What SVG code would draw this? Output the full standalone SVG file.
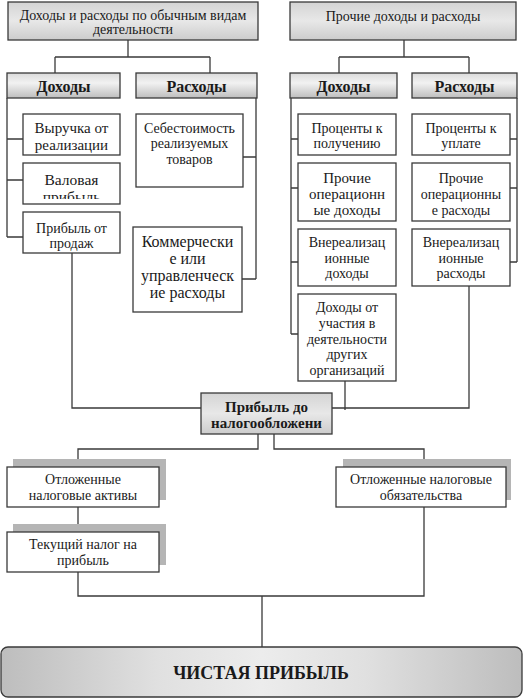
<svg xmlns="http://www.w3.org/2000/svg" width="528" height="698" viewBox="0 0 528 698">
<style>
text{font-family:"Liberation Serif","Times New Roman",serif;fill:#1a1a1a;text-anchor:middle;font-size:14px}
.b{font-weight:bold}
.box{fill:#fff;stroke:#3a3a3a;stroke-width:1.3}
.top{fill:url(#gTop);stroke:#3a3a3a;stroke-width:1.3}
.hdr{fill:url(#gHdr);stroke:#3a3a3a;stroke-width:1.3}
.sh{fill:#b5b5b5}
.c{fill:none;stroke:#3a3a3a;stroke-width:1.3}
</style>
<defs>
<linearGradient id="gTop" x1="0" y1="0" x2="0" y2="1">
<stop offset="0" stop-color="#d4d4d4"/><stop offset="0.5" stop-color="#e8e8e8"/><stop offset="1" stop-color="#cccccc"/>
</linearGradient>
<linearGradient id="gHdr" x1="0" y1="0" x2="0" y2="1">
<stop offset="0" stop-color="#dadada"/><stop offset="0.4" stop-color="#f2f2f2"/><stop offset="1" stop-color="#bdbdbd"/>
</linearGradient>
<linearGradient id="gNet" x1="0" y1="0" x2="1" y2="0">
<stop offset="0" stop-color="#bdbdbd"/><stop offset="0.3" stop-color="#e0e0e0"/><stop offset="0.5" stop-color="#ececec"/><stop offset="0.7" stop-color="#e0e0e0"/><stop offset="1" stop-color="#bdbdbd"/>
</linearGradient>
<clipPath id="clipVal"><rect x="23" y="163" width="97" height="36"/></clipPath>
</defs>

<g id="connectors">
<path class="c" d="M128 40V57M55 57H210M55 57V73M210 57V73"/>
<path class="c" d="M404 40V57M339 57H469M339 57V73M469 57V73"/>
<path class="c" d="M7 98V237M7 139H23M7 180H23M7 237H23"/>
<path class="c" d="M256 98V279M243 157H256M242 279H256"/>
<path class="c" d="M291 98V334M291 139H298M291 188H298M291 262H298M291 334H298"/>
<path class="c" d="M517 98V262M510 139H517M510 188H517M510 262H517"/>
<path class="c" d="M72 253V408H201"/>
<path class="c" d="M345 381V410"/>
<path class="c" d="M469 286V408H332"/>
<path class="c" d="M258 434V449H78V467M274 434V449H424V467"/>
<path class="c" d="M78 507V532"/>
<path class="c" d="M78 572V596H424V507M262 596V647"/>
</g>

<g id="n-ordinary"><rect class="top" x="8" y="2" width="250" height="38"/>
<text x="133" y="20">Доходы и расходы по обычным видам</text><text x="133" y="34">деятельности</text></g>
<g id="n-other"><rect class="top" x="290" y="2" width="226" height="38"/>
<text x="403" y="21">Прочие доходы и расходы</text></g>

<g id="h-inc-l"><rect class="hdr" x="7" y="73" width="113" height="25"/><text class="b" x="63.5" y="92" style="font-size:16px">Доходы</text></g>
<g id="h-exp-l"><rect class="hdr" x="136" y="73" width="121" height="25"/><text class="b" x="196.5" y="92" style="font-size:16px">Расходы</text></g>
<g id="h-inc-r"><rect class="hdr" x="290" y="73" width="107" height="25"/><text class="b" x="343.5" y="92" style="font-size:16px">Доходы</text></g>
<g id="h-exp-r"><rect class="hdr" x="412" y="73" width="105" height="25"/><text class="b" x="464.5" y="92" style="font-size:16px">Расходы</text></g>

<g id="n-revenue"><rect class="box" x="23" y="114" width="97" height="41"/>
<text x="71.5" y="133" style="font-size:15px">Выручка от</text><text x="71.5" y="150" style="font-size:15px">реализации</text></g>
<g id="n-gross"><rect class="box" x="23" y="163" width="97" height="41"/>
<g clip-path="url(#clipVal)"><text x="71.5" y="185" style="font-size:15.5px">Валовая</text><text x="71.5" y="202" style="font-size:15.5px">прибыль</text></g></g>
<g id="n-sales"><rect class="box" x="23" y="212" width="97" height="41"/>
<text x="71.5" y="233">Прибыль от</text><text x="71.5" y="248">продаж</text></g>

<g id="n-cost"><rect class="box" x="136" y="114" width="107" height="73"/>
<text x="189.5" y="133">Себестоимость</text><text x="189.5" y="148">реализуемых</text><text x="189.5" y="164">товаров</text></g>
<g id="n-comm"><rect class="box" x="133" y="227" width="109" height="85"/>
<text x="187.5" y="247" style="font-size:16px">Коммерчески</text><text x="187.5" y="264" style="font-size:16px">е или</text><text x="187.5" y="281" style="font-size:16px">управленческ</text><text x="187.5" y="298" style="font-size:16px">ие расходы</text></g>

<g id="n-int-inc"><rect class="box" x="298" y="114" width="98" height="41"/>
<text x="347" y="133">Проценты к</text><text x="347" y="148">получению</text></g>
<g id="n-op-inc"><rect class="box" x="298" y="163" width="98" height="58"/>
<text x="347" y="183" style="font-size:15px">Прочие</text><text x="347" y="199" style="font-size:15px">операционн</text><text x="347" y="215" style="font-size:15px">ые доходы</text></g>
<g id="n-nonop-inc"><rect class="box" x="298" y="229" width="98" height="57"/>
<text x="347" y="247">Внереализац</text><text x="347" y="263">ионные</text><text x="347" y="278">доходы</text></g>
<g id="n-part"><rect class="box" x="298" y="294" width="98" height="87"/>
<text x="347" y="312">Доходы от</text><text x="347" y="328">участия в</text><text x="347" y="344">деятельности</text><text x="347" y="359">других</text><text x="347" y="375">организаций</text></g>

<g id="n-int-exp"><rect class="box" x="412" y="114" width="98" height="41"/>
<text x="461" y="133">Проценты к</text><text x="461" y="148">уплате</text></g>
<g id="n-op-exp"><rect class="box" x="412" y="163" width="98" height="58"/>
<text x="461" y="183">Прочие</text><text x="461" y="199">операционны</text><text x="461" y="215">е расходы</text></g>
<g id="n-nonop-exp"><rect class="box" x="412" y="229" width="98" height="57"/>
<text x="461" y="247">Внереализац</text><text x="461" y="263">ионные</text><text x="461" y="278">расходы</text></g>

<g id="n-pretax"><rect class="top" x="201" y="393" width="131" height="41"/>
<text class="b" x="266.5" y="412" style="font-size:15px">Прибыль до</text><text class="b" x="266.5" y="428" style="font-size:15px">налогообложени</text></g>

<g id="n-dta"><rect class="sh" x="13" y="459" width="153" height="41"/><rect class="box" x="7" y="467" width="152" height="40"/>
<text x="83" y="484">Отложенные</text><text x="83" y="500">налоговые активы</text></g>
<g id="n-curtax"><rect class="sh" x="13" y="524" width="153" height="41"/><rect class="box" x="7" y="532" width="152" height="40"/>
<text x="83" y="549">Текущий налог на</text><text x="83" y="565">прибыль</text></g>
<g id="n-dtl"><rect class="sh" x="343" y="459" width="168" height="41"/><rect class="box" x="336" y="467" width="170" height="40"/>
<text x="421" y="484">Отложенные налоговые</text><text x="421" y="500">обязательства</text></g>

<g id="n-net"><rect x="1" y="647" width="521" height="50" rx="7" fill="url(#gNet)" stroke="#3a3a3a" stroke-width="1.3"/>
<text class="b" x="261" y="679" style="font-size:18px">ЧИСТАЯ ПРИБЫЛЬ</text></g>
</svg>
